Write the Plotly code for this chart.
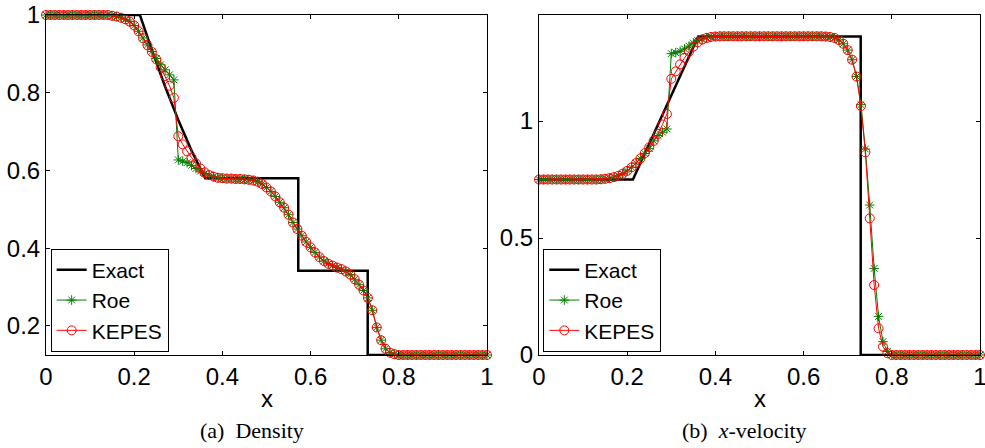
import plotly.graph_objects as go

# ---------------- data ----------------
x_grid = [round(i * 0.01, 2) for i in range(101)]

exact_rho_x = [0.0, 0.213, 0.24, 0.27, 0.30, 0.33, 0.361, 0.572, 0.572, 0.7295, 0.7295, 1.0]
exact_rho = [1.0, 1.0, 0.91, 0.816, 0.73, 0.651, 0.58, 0.58, 0.342, 0.342, 0.125, 0.125]

roe_rho = [
    1.0, 1.0, 1.0, 1.0, 1.0, 1.0, 1.0, 1.0, 1.0, 1.0,
    1.0, 1.0, 1.0, 1.0, 1.0, 0.998, 0.996, 0.993, 0.989, 0.983,
    0.973, 0.958, 0.941, 0.923, 0.906, 0.888, 0.872, 0.859, 0.846, 0.833,
    0.627, 0.624, 0.620, 0.613, 0.605, 0.598, 0.592, 0.588, 0.584, 0.581,
    0.580, 0.579, 0.579, 0.578, 0.578, 0.577, 0.576, 0.574, 0.571, 0.565,
    0.556, 0.546, 0.533, 0.518, 0.504, 0.486, 0.466, 0.449, 0.432, 0.416,
    0.402, 0.389, 0.377, 0.367, 0.360, 0.355, 0.350, 0.346, 0.340, 0.332,
    0.320, 0.306, 0.291, 0.272, 0.240, 0.196, 0.163, 0.141, 0.131, 0.127,
    0.125, 0.125, 0.125, 0.125, 0.125, 0.125, 0.125, 0.125, 0.125, 0.125,
    0.125, 0.125, 0.125, 0.125, 0.125, 0.125, 0.125, 0.125, 0.125, 0.125,
    0.125,
]

kepes_rho = [
    1.0, 1.0, 1.0, 1.0, 1.0, 1.0, 1.0, 1.0, 1.0, 1.0,
    1.0, 1.0, 1.0, 1.0, 1.0, 0.998, 0.996, 0.993, 0.989, 0.983,
    0.973, 0.958, 0.940, 0.922, 0.905, 0.886, 0.865, 0.843, 0.818, 0.787,
    0.688, 0.667, 0.649, 0.633, 0.618, 0.605, 0.595, 0.588, 0.584, 0.581,
    0.580, 0.579, 0.579, 0.578, 0.578, 0.577, 0.576, 0.574, 0.571, 0.565,
    0.556, 0.546, 0.533, 0.518, 0.504, 0.486, 0.466, 0.449, 0.432, 0.416,
    0.402, 0.389, 0.377, 0.367, 0.360, 0.355, 0.350, 0.346, 0.340, 0.332,
    0.320, 0.306, 0.291, 0.272, 0.240, 0.196, 0.163, 0.141, 0.131, 0.127,
    0.125, 0.125, 0.125, 0.125, 0.125, 0.125, 0.125, 0.125, 0.125, 0.125,
    0.125, 0.125, 0.125, 0.125, 0.125, 0.125, 0.125, 0.125, 0.125, 0.125,
    0.125,
]

exact_u_x = [0.0, 0.213, 0.361, 0.7295, 0.7295, 1.0]
exact_u = [0.75, 0.75, 1.361, 1.361, 0.0, 0.0]

roe_u = [
    0.75, 0.75, 0.75, 0.75, 0.75, 0.75, 0.75, 0.75, 0.75, 0.75,
    0.75, 0.75, 0.75, 0.75, 0.751, 0.753, 0.756, 0.760, 0.766, 0.775,
    0.787, 0.802, 0.820, 0.840, 0.861, 0.882, 0.915, 0.938, 0.952, 0.966,
    1.288, 1.292, 1.298, 1.308, 1.320, 1.333, 1.344, 1.351, 1.356, 1.359,
    1.361, 1.362, 1.362, 1.362, 1.362, 1.362, 1.362, 1.362, 1.362, 1.362,
    1.362, 1.362, 1.362, 1.362, 1.362, 1.362, 1.362, 1.362, 1.362, 1.362,
    1.362, 1.362, 1.362, 1.362, 1.362, 1.361, 1.359, 1.355, 1.346, 1.330,
    1.303, 1.262, 1.190, 1.070, 0.880, 0.641, 0.370, 0.165, 0.057, 0.015,
    0.0, 0.0, 0.0, 0.0, 0.0, 0.0, 0.0, 0.0, 0.0, 0.0,
    0.0, 0.0, 0.0, 0.0, 0.0, 0.0, 0.0, 0.0, 0.0, 0.0,
    0.0,
]

kepes_u = [
    0.75, 0.75, 0.75, 0.75, 0.75, 0.75, 0.75, 0.75, 0.75, 0.75,
    0.75, 0.75, 0.75, 0.75, 0.751, 0.753, 0.756, 0.760, 0.766, 0.775,
    0.787, 0.802, 0.820, 0.840, 0.863, 0.888, 0.915, 0.945, 0.985, 1.030,
    1.180, 1.212, 1.242, 1.270, 1.296, 1.318, 1.336, 1.348, 1.355, 1.359,
    1.361, 1.362, 1.362, 1.362, 1.362, 1.362, 1.362, 1.362, 1.362, 1.362,
    1.362, 1.362, 1.362, 1.362, 1.362, 1.362, 1.362, 1.362, 1.362, 1.362,
    1.362, 1.362, 1.362, 1.362, 1.362, 1.361, 1.359, 1.355, 1.346, 1.330,
    1.303, 1.262, 1.190, 1.064, 0.866, 0.584, 0.299, 0.114, 0.036, 0.008,
    0.0, 0.0, 0.0, 0.0, 0.0, 0.0, 0.0, 0.0, 0.0, 0.0,
    0.0, 0.0, 0.0, 0.0, 0.0, 0.0, 0.0, 0.0, 0.0, 0.0,
    0.0,
]

x_ticks = [0, 0.2, 0.4, 0.6, 0.8, 1]
x_ticklabels = ["0", "0.2", "0.4", "0.6", "0.8", "1"]
rho_ticks = [0.2, 0.4, 0.6, 0.8, 1]
rho_ticklabels = ["0.2", "0.4", "0.6", "0.8", "1"]
u_ticks = [0, 0.5, 1]
u_ticklabels = ["0", "0.5", "1"]

# ---------------- styling ----------------
SANS = "Liberation Sans, Arial, sans-serif"
SERIF = "Liberation Serif, Times New Roman, serif"
GREEN = "#008000"
RED = "#ff0000"

fig = go.Figure()


def add_panel(xa, ya, legend_id, ex_x, ex_y, roe_y, kep_y):
    fig.add_trace(go.Scatter(
        x=ex_x, y=ex_y, mode="lines", name="Exact",
        line=dict(color="black", width=2.5), xaxis=xa, yaxis=ya,
        legend=legend_id, cliponaxis=False))
    fig.add_trace(go.Scatter(
        x=x_grid, y=roe_y, mode="lines+markers", name="Roe",
        line=dict(color=GREEN, width=1),
        marker=dict(symbol="asterisk-open", size=8, color=GREEN,
                    line=dict(color=GREEN, width=1)),
        xaxis=xa, yaxis=ya, legend=legend_id, cliponaxis=False))
    fig.add_trace(go.Scatter(
        x=x_grid, y=kep_y, mode="lines+markers", name="KEPES",
        line=dict(color=RED, width=1),
        marker=dict(symbol="circle-open", size=9, color=RED,
                    line=dict(color=RED, width=1)),
        xaxis=xa, yaxis=ya, legend=legend_id, cliponaxis=False))


add_panel("x", "y", "legend", exact_rho_x, exact_rho, roe_rho, kepes_rho)
add_panel("x2", "y2", "legend2", exact_u_x, exact_u, roe_u, kepes_u)

axis_common = dict(
    showgrid=False, zeroline=False, showline=True, linecolor="black",
    linewidth=1, mirror="ticks", ticks="inside", ticklen=4,
    tickcolor="black", tickwidth=1, ticklabeloverflow="allow",
    tickfont=dict(family=SANS, size=24, color="black"), automargin=False,
)

left_dom = [0.0, 441 / 934]
right_dom = [493 / 934, 1.0]

legend_common = dict(
    xanchor="left", yanchor="bottom", y=0.01,
    bgcolor="white", bordercolor="black", borderwidth=1,
    font=dict(family=SANS, size=21, color="black"),
    tracegroupgap=0, itemwidth=30,
)

fig.update_layout(
    width=985, height=448,
    margin=dict(l=46, r=5, t=15, b=93),
    paper_bgcolor="white", plot_bgcolor="white",
    xaxis=dict(domain=left_dom, range=[0, 1], tickvals=x_ticks,
               ticktext=x_ticklabels, anchor="y", **axis_common),
    yaxis=dict(domain=[0, 1], range=[0.125, 1], tickvals=rho_ticks,
               ticktext=rho_ticklabels, anchor="x", **axis_common),
    xaxis2=dict(domain=right_dom, range=[0, 1], tickvals=x_ticks,
                ticktext=x_ticklabels, anchor="y2", **axis_common),
    yaxis2=dict(domain=[0, 1], range=[0, 1.453], tickvals=u_ticks,
                ticktext=u_ticklabels, anchor="x2", **axis_common),
    legend=dict(x=0.005, **legend_common),
    legend2=dict(x=497.3 / 934, **legend_common),
    showlegend=True,
)

annots = [
    dict(text="x", x=(left_dom[0] + left_dom[1]) / 2, y=(355 - 398) / 340,
         font=dict(family=SANS, size=24, color="black")),
    dict(text="x", x=(right_dom[0] + right_dom[1]) / 2, y=(355 - 398) / 340,
         font=dict(family=SANS, size=24, color="black")),
    dict(text="(a)  Density", x=(251.7 - 46) / 934, y=(355 - 430) / 340,
         font=dict(family=SERIF, size=22, color="black")),
    dict(text="(b)  <i>x</i>-velocity", x=(744 - 46) / 934, y=(355 - 430) / 340,
         font=dict(family=SERIF, size=22, color="black")),
]
for a in annots:
    fig.add_annotation(xref="paper", yref="paper", showarrow=False,
                       xanchor="center", yanchor="middle", **a)

fig.write_html(
    "out.html",
    config={"displayModeBar": False},
    post_script="document.body.style.margin='0';document.body.style.padding='0';",
)
